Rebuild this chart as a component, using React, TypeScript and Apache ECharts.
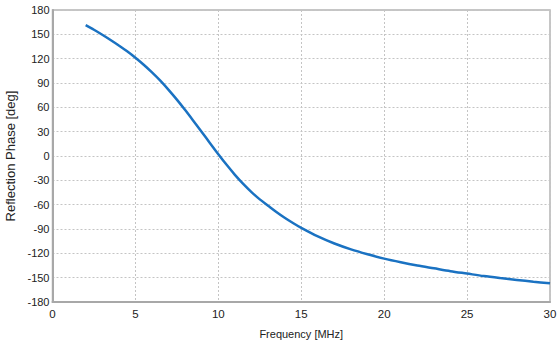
import React, { useEffect, useRef } from "react";
import * as echarts from "echarts";

const freqMHz = [2, 2.5, 3, 3.5, 4, 4.5, 5, 5.5, 6, 6.5, 7, 7.5, 8, 8.5, 9, 9.5, 10, 10.5, 11, 11.5, 12, 12.5, 13, 13.5, 14, 14.5, 15, 16, 17, 18, 19, 20, 21, 22, 23, 24, 25, 26, 27, 28, 29, 30];
const phaseDeg = [161.3, 155.6, 149.5, 143.1, 136.3, 129, 121.1, 112.5, 103.1, 92.9, 81.6, 69.5, 56.6, 43.2, 29.6, 15.8, 2.2, -10.9, -23.2, -34.4, -44.5, -53.5, -61.3, -69, -76.1, -82.6, -88.6, -99.1, -107.9, -115.1, -121.1, -126.5, -131, -135, -138.5, -142, -145, -148, -150.5, -152.8, -155, -157];

const xTicks = { min: 0, max: 30, interval: 5 };
const yTicks = { min: -180, max: 180, interval: 30 };

export default function App() {
  const ref = useRef<HTMLDivElement>(null);
  useEffect(() => {
    if (!ref.current) return;
    const chart = echarts.init(ref.current, undefined, { renderer: "svg" });
    const font = "'Liberation Sans', Arial, sans-serif";
    chart.setOption({
      animation: false,
      grid: {
        left: 52.5,
        right: 7,
        top: 10,
        bottom: 45,
        show: true,
        borderColor: "#b4b4b4",
        borderWidth: 1.5,
        outerBoundsMode: "none",
        containLabel: false,
      },
      xAxis: {
        type: "value",
        min: xTicks.min,
        max: xTicks.max,
        interval: xTicks.interval,
        name: "Frequency [MHz]",
        nameLocation: "middle",
        nameGap: 26,
        nameTextStyle: { fontFamily: font, fontSize: 11, color: "#222" },
        axisLine: { show: true, onZero: false, lineStyle: { color: "#a8a8a8", width: 2 } },
        axisTick: { show: false },
        axisLabel: { fontFamily: font, fontSize: 11.5, color: "#222", margin: 6 },
        splitLine: { show: true, lineStyle: { color: "#c4c4c4", type: [2, 2], width: 1 } },
      },
      yAxis: {
        type: "value",
        min: yTicks.min,
        max: yTicks.max,
        interval: yTicks.interval,
        name: "Reflection Phase [deg]",
        nameLocation: "middle",
        nameGap: 24,
        nameTextStyle: { fontFamily: font, fontSize: 13, color: "#222" },
        axisLine: { show: true, onZero: false, lineStyle: { color: "#a8a8a8", width: 2 } },
        axisTick: { show: false },
        axisLabel: { fontFamily: font, fontSize: 11, color: "#222", margin: 3 },
        splitLine: { show: true, lineStyle: { color: "#c4c4c4", type: [2, 2], width: 1 } },
      },
      series: [
        {
          type: "line",
          data: freqMHz.map((f, i) => [f, phaseDeg[i]]),
          smooth: 0.3,
          showSymbol: false,
          lineStyle: { color: "#1a72c2", width: 2.5 },
        },
      ],
    });
    return () => chart.dispose();
  }, []);
  return <div ref={ref} style={{ width: 557, height: 347, position: "absolute", left: 0, top: 0 }} />;
}
